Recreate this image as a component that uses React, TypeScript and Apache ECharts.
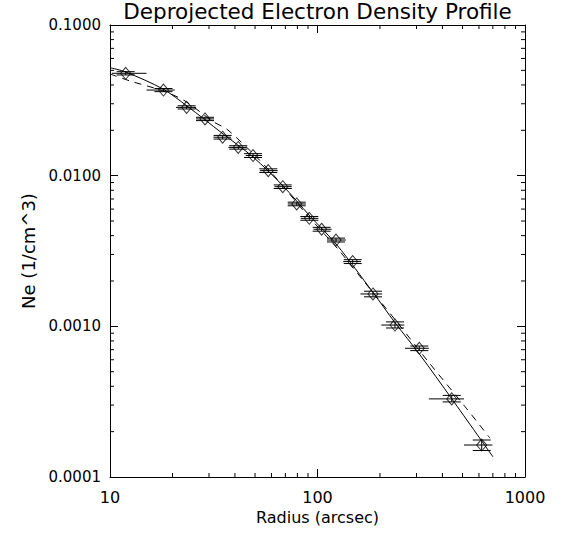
import React, { useEffect, useRef } from "react";
import * as echarts from "echarts";

// Measured profile (diamonds)
const radius = [11.9, 18.1, 23.4, 28.7, 34.9, 41.5, 48.9, 57.9, 68.0, 79.4, 91.3, 104.7, 122.8, 147.8, 185.1, 236.3, 309.5, 443.5, 618.6];
const density = [0.0478, 0.037, 0.0284, 0.0238, 0.018, 0.0154, 0.0136, 0.0108, 0.00845, 0.00649, 0.00521, 0.00441, 0.00374, 0.00269, 0.00164, 0.00102, 0.000715, 0.00033, 0.000163];
// Radial bin edges (x error bars)
const radiusLow = [10.2, 15.0, 20.8, 26.0, 31.5, 37.2, 45.1, 52.8, 62.1, 71.9, 83.0, 95.6, 111, 133, 161, 203, 264, 344, 508];
const radiusHigh = [15.0, 20.5, 26.0, 31.7, 38.3, 45.5, 54.1, 64.3, 75.1, 87.9, 101, 117, 137, 162, 205, 262, 344, 508, 697];
// Density error bars
const densityLow = [0.0466, 0.0361, 0.0277, 0.0232, 0.0175, 0.015, 0.0132, 0.0105, 0.00822, 0.00631, 0.00506, 0.00428, 0.00363, 0.00261, 0.00157, 0.000975, 0.00069, 0.000315, 0.00015];
const densityHigh = [0.049, 0.0379, 0.0291, 0.0244, 0.0185, 0.0158, 0.014, 0.0111, 0.00868, 0.00667, 0.00536, 0.00454, 0.00385, 0.00277, 0.00171, 0.00107, 0.00074, 0.000348, 0.000176];

// Model curves
const solidRadius = [10.1, 11.9, 18.0, 23.5, 34.6, 48.9, 67.6, 91.9, 124, 185, 236, 312, 444, 701];
const solidDensity = [0.0519, 0.0488, 0.0376, 0.029, 0.0192, 0.0133, 0.00867, 0.0054, 0.00347, 0.00168, 0.00106, 0.000646, 0.00033, 0.000136];
const dashedRadius = [10, 12.5, 18, 23.0, 31.3, 37.0, 58, 90, 125.4, 164, 240, 342, 514, 678];
const dashedDensity = [0.0473, 0.0425, 0.0365, 0.0313, 0.0229, 0.0201, 0.011, 0.0054, 0.00326, 0.00206, 0.00108, 0.000582, 0.000293, 0.000181];

// Axis ticks
const xMajorTicks = [10, 100, 1000];
const xMinorTicks = [20, 30, 40, 50, 60, 70, 80, 90, 200, 300, 400, 500, 600, 700, 800, 900];
const yMinorTicks = [0.0002, 0.0003, 0.0004, 0.0005, 0.0006, 0.0007, 0.0008, 0.0009, 0.002, 0.003, 0.004, 0.005, 0.006, 0.007, 0.008, 0.009, 0.02, 0.03, 0.04, 0.05, 0.06, 0.07, 0.08, 0.09];

const TITLE = "Deprojected Electron Density Profile";
const X_NAME = "Radius (arcsec)";
const Y_NAME = "Ne (1/cm^3)";

const FONT = "DejaVu Sans";
const X_MIN = xMajorTicks[0];
const X_MAX = xMajorTicks[xMajorTicks.length - 1];
const Y_MIN = 0.0001;
const Y_MAX = 0.1;

export default function App() {
  const ref = useRef<HTMLDivElement>(null);
  useEffect(() => {
    const chart = echarts.init(ref.current!, null, { renderer: "svg" });
    const black = "#000";
    const lineStyle = { color: black, width: 1 };

    const errData = radius.map((r, i) => [r, density[i], radiusLow[i], radiusHigh[i], densityLow[i], densityHigh[i]]);
    const minorData = [
      ...xMinorTicks.map((v) => [v, Y_MIN, 0]),
      ...yMinorTicks.map((v) => [X_MIN, v, 1]),
    ];

    const baseX = {
      type: "log",
      logBase: 10,
      min: X_MIN,
      max: X_MAX,
      gridIndex: 0,
      axisLine: { show: true, onZero: false, lineStyle },
      axisTick: { show: true, inside: true, length: 8, lineStyle },
      splitLine: { show: false },
      minorTick: { show: false },
    };
    const baseY = {
      type: "log",
      logBase: 10,
      min: Y_MIN,
      max: Y_MAX,
      gridIndex: 0,
      axisLine: { show: true, onZero: false, lineStyle },
      axisTick: { show: true, inside: true, length: 8, lineStyle },
      splitLine: { show: false },
      minorTick: { show: false },
    };

    chart.setOption({
      animation: false,
      backgroundColor: "#fff",
      textStyle: { fontFamily: FONT },
      grid: { left: 110, top: 25, right: 48, bottom: 56, containLabel: false },
      graphic: [
        {
          type: "text",
          x: 317.5,
          y: 11,
          style: {
            text: TITLE,
            fontFamily: FONT,
            fontSize: 21.5,
            fill: black,
            textAlign: "center",
            textVerticalAlign: "middle",
          },
        },
      ],
      xAxis: [
        {
          ...baseX,
          position: "bottom",
          axisLabel: {
            color: black,
            fontFamily: FONT,
            fontSize: 16,
            margin: 12,
            formatter: (v: number) => String(Math.round(v)),
          },
          name: X_NAME,
          nameLocation: "middle",
          nameGap: 32,
          nameTextStyle: { color: black, fontFamily: FONT, fontSize: 16 },
        },
        { ...baseX, position: "top", axisLabel: { show: false } },
      ],
      yAxis: [
        {
          ...baseY,
          position: "left",
          axisLabel: {
            color: black,
            fontFamily: FONT,
            fontSize: 15,
            margin: 9,
            formatter: (v: number) => v.toFixed(4),
          },
          name: Y_NAME,
          nameLocation: "middle",
          nameGap: 64,
          nameRotate: 90,
          nameTextStyle: { color: black, fontFamily: FONT, fontSize: 18 },
        },
        { ...baseY, position: "right", axisLabel: { show: false } },
      ],
      series: [
        {
          type: "custom",
          name: "minorTicks",
          xAxisIndex: 0,
          yAxisIndex: 0,
          silent: true,
          encode: { x: 0, y: 1 },
          data: minorData,
          renderItem: (params: any, api: any) => {
            const cs = params.coordSys;
            const kind = api.value(2);
            const len = 4;
            const style = { stroke: black, lineWidth: 1 };
            if (kind === 0) {
              const p = api.coord([api.value(0), Y_MIN]);
              const x = p[0];
              return {
                type: "group",
                children: [
                  { type: "line", shape: { x1: x, y1: cs.y + cs.height, x2: x, y2: cs.y + cs.height - len }, style },
                  { type: "line", shape: { x1: x, y1: cs.y, x2: x, y2: cs.y + len }, style },
                ],
              };
            }
            const p = api.coord([X_MIN, api.value(1)]);
            const y = p[1];
            return {
              type: "group",
              children: [
                { type: "line", shape: { x1: cs.x, y1: y, x2: cs.x + len, y2: y }, style },
                { type: "line", shape: { x1: cs.x + cs.width, y1: y, x2: cs.x + cs.width - len, y2: y }, style },
              ],
            };
          },
          z: 1,
        },
        {
          type: "line",
          name: "model",
          data: solidRadius.map((r, i) => [r, solidDensity[i]]),
          showSymbol: false,
          smooth: 0.3,
          lineStyle: { color: black, width: 1, type: "solid" },
          z: 2,
        },
        {
          type: "line",
          name: "model2",
          data: dashedRadius.map((r, i) => [r, dashedDensity[i]]),
          showSymbol: false,
          smooth: 0.3,
          lineStyle: { color: black, width: 1, type: [7, 6] },
          z: 2,
        },
        {
          type: "custom",
          name: "errors",
          encode: { x: 0, y: 1 },
          data: errData,
          renderItem: (params: any, api: any) => {
            const x = api.value(0);
            const y = api.value(1);
            const c = api.coord([x, y]);
            const pl = api.coord([api.value(2), y]);
            const pr = api.coord([api.value(3), y]);
            const pb = api.coord([x, api.value(4)]);
            const pt = api.coord([x, api.value(5)]);
            const cap = 9;
            const style = { stroke: black, lineWidth: 1, fill: "none" };
            return {
              type: "group",
              children: [
                { type: "line", shape: { x1: pl[0], y1: c[1], x2: pr[0], y2: c[1] }, style },
                { type: "line", shape: { x1: c[0], y1: pb[1], x2: c[0], y2: pt[1] }, style },
                { type: "line", shape: { x1: c[0] - cap, y1: pb[1], x2: c[0] + cap, y2: pb[1] }, style },
                { type: "line", shape: { x1: c[0] - cap, y1: pt[1], x2: c[0] + cap, y2: pt[1] }, style },
              ],
            };
          },
          z: 3,
        },
        {
          type: "scatter",
          name: "data",
          data: radius.map((r, i) => [r, density[i]]),
          symbol: "diamond",
          symbolSize: [10, 12],
          itemStyle: { color: "rgba(0,0,0,0)", borderColor: black, borderWidth: 1 },
          z: 4,
        },
      ],
    });
    return () => chart.dispose();
  }, []);
  return (
    <div
      ref={ref}
      style={{ position: "fixed", left: 0, top: 0, width: 573, height: 533, background: "#fff" }}
    />
  );
}
